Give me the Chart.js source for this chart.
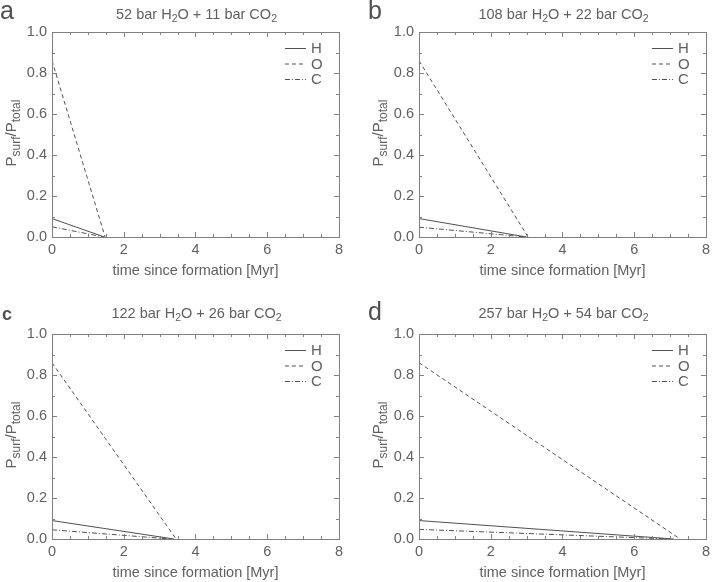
<!DOCTYPE html>
<html><head><meta charset="utf-8">
<script src="https://cdn.jsdelivr.net/npm/chart.js@4"></script>
<style>
body{margin:0;background:#fff;width:714px;height:582px;position:relative;overflow:hidden;font-family:"Liberation Sans",Arial,sans-serif;color:#606060}
.panel{position:absolute;width:347px;height:280px}
.panel canvas{position:absolute;left:0;top:0}
.letter{position:absolute;font-size:25px;line-height:25px;color:#505050}
.title{position:absolute;left:52px;width:289px;text-align:center;font-size:14.5px;line-height:16px;white-space:nowrap}
.ylab{position:absolute;left:10px;top:133px;transform:translate(-50%,-50%) rotate(-90deg);font-size:15px;white-space:nowrap}
.ylab sub{font-size:12px;vertical-align:-4px;line-height:0}
.title sub{font-size:10.5px;vertical-align:-3px;line-height:0}
</style></head><body>
<script>
// ---- data ----
const panelLetters = ['a','b','c','d'];
const panelTitles = [
  '52 bar H<sub>2</sub>O + 11 bar CO<sub>2</sub>',
  '108 bar H<sub>2</sub>O + 22 bar CO<sub>2</sub>',
  '122 bar H<sub>2</sub>O + 26 bar CO<sub>2</sub>',
  '257 bar H<sub>2</sub>O + 54 bar CO<sub>2</sub>'
];
const seriesNames = ['H','O','C'];
// time [Myr] for each series in each panel (start, end)
const timeH = [[0,1.46],[0,3.0],[0,3.4],[0,7.1]];
const timeO = [[0,1.48],[0,3.04],[0,3.46],[0,7.28]];
const timeC = [[0,1.44],[0,2.98],[0,3.3],[0,7.0]];
const valH = [[0.09,0],[0.09,0],[0.09,0],[0.09,0]];
const valO = [[0.86,0],[0.86,0],[0.86,0],[0.86,0]];
const valC = [[0.05,0],[0.048,0],[0.045,0],[0.047,0]];
const xTicks = [0,2,4,6,8];
const yTicks = [0.0,0.2,0.4,0.6,0.8,1.0];

const origins = [[0,0],[367,0],[0,302],[367,302]];
const titleTops = [6,6,3,3];
const letterPos = [[0,-2],[1,-2],[2,0],[1,-3]];
const letterSize = [25,25,18,25];
const dashes = [[], [4,3], [5,2,1,2]];
const lineColor = '#505050';
const axisColor = '#808080';
const textColor = '#606060';

const framePlugin = {
  id:'frame',
  afterDatasetsDraw(chart){
    const ctx = chart.ctx, a = chart.chartArea;
    const xs = chart.scales.x, ys = chart.scales.y;
    ctx.save();
    ctx.strokeStyle = axisColor; ctx.lineWidth = 1;
    ctx.strokeRect(Math.round(a.left)+0.5, Math.round(a.top)+0.5, Math.round(a.right-a.left), Math.round(a.bottom-a.top));
    ctx.beginPath();
    for(let v=0; v<=8.001; v+=0.5){
      const px = Math.round(xs.getPixelForValue(v))+0.5;
      const major = Math.abs(v/2 - Math.round(v/2))<1e-6;
      const L = major?5:3;
      ctx.moveTo(px,a.bottom); ctx.lineTo(px,a.bottom-L);
      ctx.moveTo(px,a.top); ctx.lineTo(px,a.top+L);
    }
    for(let v=0; v<=1.0001; v+=0.1){
      const py = Math.round(ys.getPixelForValue(v))+0.5;
      const major = Math.abs(v*5 - Math.round(v*5))<1e-6;
      const L = major?5:3;
      ctx.moveTo(a.left,py); ctx.lineTo(a.left+L,py);
      ctx.moveTo(a.right,py); ctx.lineTo(a.right-L,py);
    }
    ctx.stroke();
    // legend
    ctx.font = '15px "Liberation Sans", Arial, sans-serif';
    ctx.fillStyle = textColor; ctx.textBaseline='middle'; ctx.textAlign='left';
    seriesNames.forEach((n,i)=>{
      const y = a.top + 16 + i*15.5;
      ctx.beginPath(); ctx.setLineDash(dashes[i]); ctx.strokeStyle = lineColor;
      ctx.moveTo(a.right-54, y+0.5); ctx.lineTo(a.right-33, y+0.5); ctx.stroke();
      ctx.setLineDash([]);
      ctx.fillText(n, a.right-28, y+1);
    });
    ctx.restore();
  }
};

const tickFont = {family:'"Liberation Sans", Arial, sans-serif', size:14.5};

for(let p=0;p<4;p++){
  const div = document.createElement('div');
  div.className='panel';
  div.style.left = origins[p][0]+'px'; div.style.top = origins[p][1]+'px';
  div.innerHTML = '<canvas width="347" height="280"></canvas>' +
    '<div class="title" style="top:'+titleTops[p]+'px">'+panelTitles[p]+'</div>' +
    '<div class="ylab">P<sub>surf</sub>/P<sub>total</sub></div>';
  document.body.appendChild(div);
  const L = document.createElement('div');
  L.className='letter'; L.textContent = panelLetters[p];
  L.style.left = (origins[p][0] + letterPos[p][0])+'px';
  L.style.top = (origins[p][1] + letterPos[p][1])+'px';
  L.style.fontSize = letterSize[p]+'px';
  if(p===2){ L.style.fontWeight='bold'; }
  document.body.appendChild(L);

  const tArr=[timeH[p],timeO[p],timeC[p]], vArr=[valH[p],valO[p],valC[p]];
  const datasets = seriesNames.map((n,i)=>({
    label:n,
    data: tArr[i].map((t,k)=>({x:t,y:vArr[i][k]})),
    borderColor: lineColor, borderWidth:1, borderDash: dashes[i],
    pointRadius:0, tension:0, fill:false
  }));
  new Chart(div.querySelector('canvas'), {
    type:'line',
    data:{datasets},
    options:{
      responsive:false, animation:false,
      layout:{padding:{top:32,left:0,right:6,bottom:0}},
      plugins:{legend:{display:false}, tooltip:{enabled:false}},
      scales:{
        x:{type:'linear', min:0, max:8,
          afterBuildTicks(s){ s.ticks = xTicks.map(v=>({value:v})); },
          afterFit(s){ s.height = 43; },
          grid:{display:false, drawTicks:false}, border:{display:false},
          ticks:{font:tickFont, color:textColor, padding:4, maxRotation:0, callback:v=>String(v)},
          title:{display:true, text:'time since formation [Myr]', font:tickFont, color:textColor, padding:{top:2,bottom:0}}
        },
        y:{type:'linear', min:0, max:1,
          afterBuildTicks(s){ s.ticks = yTicks.map(v=>({value:v})); },
          afterFit(s){ s.width = 52; },
          grid:{display:false, drawTicks:false}, border:{display:false},
          ticks:{font:tickFont, color:textColor, padding:5, callback:v=>Number(v).toFixed(1)}
        }
      }
    },
    plugins:[framePlugin]
  });
}
</script>
</body></html>
